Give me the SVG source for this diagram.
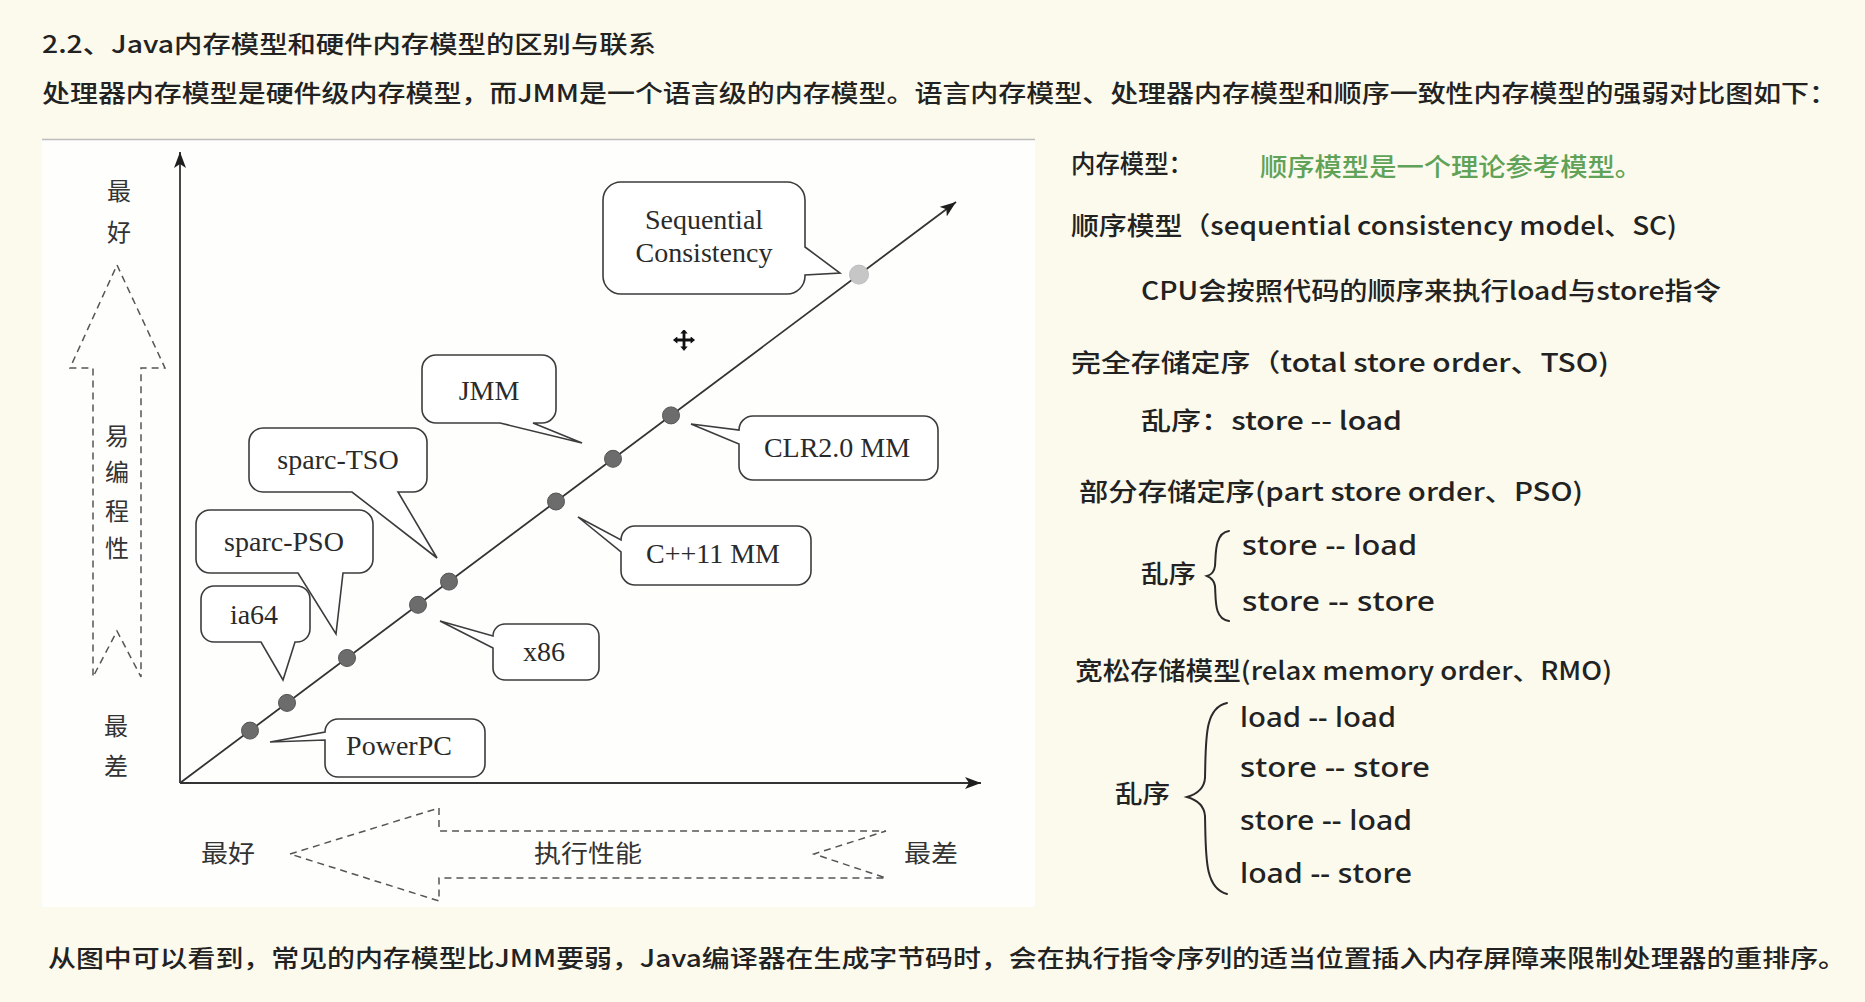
<svg xmlns="http://www.w3.org/2000/svg" width="1865" height="1002" viewBox="0 0 1865 1002">
<style>
.t{font-family:"Noto Sans CJK SC","Noto Sans",sans-serif;fill:#222;font-weight:500;}
.r{font-family:"Noto Sans CJK SC","Noto Sans",sans-serif;font-size:25px;fill:#222;font-weight:500;}
.en{font-family:"Noto Sans","Noto Sans CJK SC",sans-serif;font-size:27px;fill:#222;font-weight:500;}
.lbl{font-family:"Liberation Serif","Times New Roman",serif;font-size:28px;fill:#2a2a2a;text-anchor:middle;}
.zh{font-family:"Noto Sans CJK SC",sans-serif;font-size:24px;fill:#333;text-anchor:middle;}
.box{fill:#fff;stroke:#3c3c3c;stroke-width:1.6;stroke-linejoin:miter;}
.dash{fill:none;stroke:#555;stroke-width:1.5;stroke-dasharray:7 5;}
.dot{fill:#6c6c6c;stroke:#555;stroke-width:1;}
.axis{fill:none;stroke:#333;stroke-width:1.8;}
.brace{fill:none;stroke:#2a2a2a;stroke-width:2;stroke-linecap:round;}
</style>
<defs>
<marker id="ah" viewBox="0 0 16 12" refX="16" refY="6" markerWidth="16" markerHeight="12" orient="auto" markerUnits="userSpaceOnUse">
<path d="M0,0 L16,6 L0,12 L4,6 Z" fill="#1e1e1e"/>
</marker>
</defs>
<rect x="0" y="0" width="1865" height="1002" fill="#fcfaed"/>
<text class="t" x="42" y="53" font-size="24" textLength="614" lengthAdjust="spacingAndGlyphs">2.2、Java内存模型和硬件内存模型的区别与联系</text>
<text class="t" x="42" y="102" font-size="24" textLength="1795" lengthAdjust="spacingAndGlyphs">处理器内存模型是硬件级内存模型，而JMM是一个语言级的内存模型。语言内存模型、处理器内存模型和顺序一致性内存模型的强弱对比图如下：</text>

<g id="chart-bg">
<rect x="42" y="139" width="993" height="768" fill="#fefefd"/>
<line x1="42" y1="139.5" x2="1035" y2="139.5" stroke="#bdbdbd" stroke-width="1.5"/>
</g>

<g id="programmability-arrow">
<polygon class="dash" points="117,265 165,368 141,368 141,677 117,631 93,677 93,368 70,368"/>
<text class="zh" x="119" y="200">最</text>
<text class="zh" x="119" y="241">好</text>
<text class="zh" x="117" y="445">易</text>
<text class="zh" x="117" y="481">编</text>
<text class="zh" x="117" y="520">程</text>
<text class="zh" x="117" y="557">性</text>
<text class="zh" x="116" y="735">最</text>
<text class="zh" x="116" y="775">差</text>
</g>

<g id="performance-arrow">
<polygon class="dash" points="290,854 439,808 439,831 886,831 814,854 886,878 439,878 439,901"/>
<text class="zh" x="228" y="862" textLength="54" lengthAdjust="spacingAndGlyphs">最好</text>
<text class="zh" x="588" y="862" textLength="108" lengthAdjust="spacingAndGlyphs">执行性能</text>
<text class="zh" x="931" y="862" textLength="54" lengthAdjust="spacingAndGlyphs">最差</text>
</g>

<g id="connectors">
<path class="axis" d="M180,783 V152" marker-end="url(#ah)"/>
<path class="axis" d="M180,783 H981" marker-end="url(#ah)"/>
<path class="axis" d="M180,783 L956,202" stroke="#444" marker-end="url(#ah)"/>
</g>

<g id="dots">
<circle class="dot" cx="250" cy="730.6" r="8.5"/>
<circle class="dot" cx="287" cy="702.9" r="8.5"/>
<circle class="dot" cx="347" cy="658" r="8.5"/>
<circle class="dot" cx="418" cy="604.8" r="8.5"/>
<circle class="dot" cx="449" cy="581.6" r="8.5"/>
<circle class="dot" cx="556" cy="501.5" r="8.5"/>
<circle class="dot" cx="613" cy="458.8" r="8.5"/>
<circle class="dot" cx="671" cy="415.4" r="8.5"/>
<circle cx="859" cy="274.6" r="9.5" fill="#c6c6c6" stroke="#bdbdbd" stroke-width="1"/>
</g>

<g id="node-sc">
<path class="box" d="M621,182 H787 A18,18 0 0 1 805,200 V247 L840,273 L805,275 V276 A18,18 0 0 1 787,294 H621 A18,18 0 0 1 603,276 V200 A18,18 0 0 1 621,182 Z"/>
<text class="lbl" x="704" y="229">Sequential</text>
<text class="lbl" x="704" y="262">Consistency</text>
</g>
<g id="node-jmm">
<path class="box" d="M436,355 H542 A14,14 0 0 1 556,369 V409 A14,14 0 0 1 542,423 H533 L582,443 L500,423 H436 A14,14 0 0 1 422,409 V369 A14,14 0 0 1 436,355 Z"/>
<text class="lbl" x="489" y="400">JMM</text>
</g>
<g id="node-sparc-tso">
<path class="box" d="M263,428 H413 A14,14 0 0 1 427,442 V478 A14,14 0 0 1 413,492 H398 L437,558 L352,492 H263 A14,14 0 0 1 249,478 V442 A14,14 0 0 1 263,428 Z"/>
<text class="lbl" x="338" y="469">sparc-TSO</text>
</g>
<g id="node-sparc-pso">
<path class="box" d="M210,510 H359 A14,14 0 0 1 373,524 V559 A14,14 0 0 1 359,573 H343 L336,634 L298,573 H210 A14,14 0 0 1 196,559 V524 A14,14 0 0 1 210,510 Z"/>
<text class="lbl" x="284" y="551">sparc-PSO</text>
</g>
<g id="node-ia64">
<path class="box" d="M214,586 H297 A13,13 0 0 1 310,599 V629 A13,13 0 0 1 297,642 H295 L283,680 L261,642 H214 A13,13 0 0 1 201,629 V599 A13,13 0 0 1 214,586 Z"/>
<text class="lbl" x="254" y="624">ia64</text>
</g>
<g id="node-x86">
<path class="box" d="M505,624 H587 A12,12 0 0 1 599,636 V668 A12,12 0 0 1 587,680 H505 A12,12 0 0 1 493,668 V648 L440,621 L493,636 A12,12 0 0 1 505,624 Z"/>
<text class="lbl" x="544" y="661">x86</text>
</g>
<g id="node-powerpc">
<path class="box" d="M338,719 H472 A13,13 0 0 1 485,732 V764 A13,13 0 0 1 472,777 H338 A13,13 0 0 1 325,764 V740 L270,742 L325,732 A13,13 0 0 1 338,719 Z"/>
<text class="lbl" x="399" y="755">PowerPC</text>
</g>
<g id="node-cpp11">
<path class="box" d="M635,526 H797 A14,14 0 0 1 811,540 V571 A14,14 0 0 1 797,585 H635 A14,14 0 0 1 621,571 V552 L578,517 L621,540 A14,14 0 0 1 635,526 Z"/>
<text class="lbl" x="713" y="563">C++11 MM</text>
</g>
<g id="node-clr">
<path class="box" d="M753,416 H924 A14,14 0 0 1 938,430 V466 A14,14 0 0 1 924,480 H753 A14,14 0 0 1 739,466 V444 L691,424 L739,430 A14,14 0 0 1 753,416 Z"/>
<text class="lbl" x="837" y="457">CLR2.0 MM</text>
</g>

<g id="cursor" transform="translate(684,340)">
<path d="M0,-12 L5,-6 L2,-6 L2,-2 L6,-2 L6,-5 L12,0 L6,5 L6,2 L2,2 L2,6 L5,6 L0,12 L-5,6 L-2,6 L-2,2 L-6,2 L-6,5 L-12,0 L-6,-5 L-6,-2 L-2,-2 L-2,-6 L-5,-6 Z" fill="#111" stroke="#fff" stroke-width="1.2"/>
</g>

<g id="notes">
<text class="r" x="1071" y="173" textLength="122" lengthAdjust="spacingAndGlyphs">内存模型：</text>
<text class="r" x="1260" y="176" textLength="382" lengthAdjust="spacingAndGlyphs" style="fill:#5fa258">顺序模型是一个理论参考模型。</text>
<text class="r" x="1071" y="235" textLength="606" lengthAdjust="spacingAndGlyphs">顺序模型（sequential consistency model、SC)</text>
<text class="r" x="1141" y="300" textLength="580" lengthAdjust="spacingAndGlyphs">CPU会按照代码的顺序来执行load与store指令</text>
<text class="r" x="1071" y="372" textLength="538" lengthAdjust="spacingAndGlyphs">完全存储定序（total store order、TSO)</text>
<text class="r" x="1141" y="430" textLength="261" lengthAdjust="spacingAndGlyphs">乱序：store -- load</text>
<text class="r" x="1079" y="501" textLength="504" lengthAdjust="spacingAndGlyphs">部分存储定序(part store order、PSO)</text>
<text class="r" x="1141" y="583" textLength="55" lengthAdjust="spacingAndGlyphs">乱序</text>
<path class="brace" d="M1229,531 C1214,533 1216,556 1215,566 Q1214,574 1207,576 Q1214,579 1215,586 C1216,600 1214,619 1229,621"/>
<text class="en" x="1242" y="555" textLength="175" lengthAdjust="spacingAndGlyphs">store -- load</text>
<text class="en" x="1242" y="611" textLength="193" lengthAdjust="spacingAndGlyphs">store -- store</text>
<text class="r" x="1075" y="680" textLength="537" lengthAdjust="spacingAndGlyphs">宽松存储模型(relax memory order、RMO)</text>
<text class="r" x="1115" y="803" textLength="55" lengthAdjust="spacingAndGlyphs">乱序</text>
<path class="brace" d="M1227,703 C1204,708 1206,740 1205,778 Q1204,792 1187,797 Q1204,802 1205,816 C1206,855 1204,888 1227,894"/>
<text class="en" x="1240" y="727" textLength="156" lengthAdjust="spacingAndGlyphs">load -- load</text>
<text class="en" x="1240" y="777" textLength="190" lengthAdjust="spacingAndGlyphs">store -- store</text>
<text class="en" x="1240" y="830" textLength="172" lengthAdjust="spacingAndGlyphs">store -- load</text>
<text class="en" x="1240" y="883" textLength="172" lengthAdjust="spacingAndGlyphs">load -- store</text>
</g>

<text class="t" x="48" y="967" font-size="24" textLength="1798" lengthAdjust="spacingAndGlyphs">从图中可以看到，常见的内存模型比JMM要弱，Java编译器在生成字节码时，会在执行指令序列的适当位置插入内存屏障来限制处理器的重排序。</text>
</svg>
